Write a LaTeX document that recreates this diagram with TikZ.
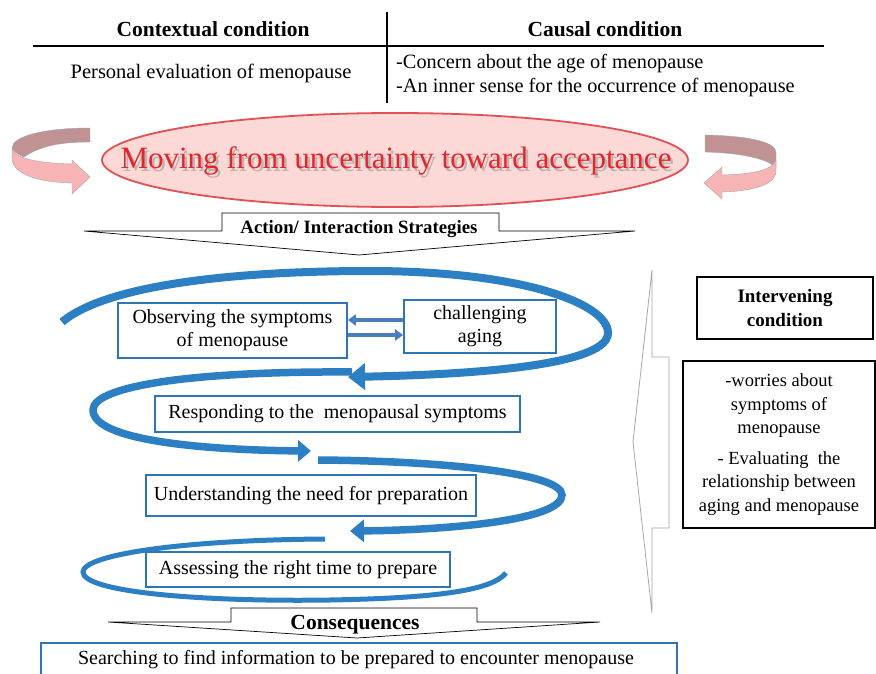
\documentclass[tikz,border=0pt]{standalone}
\usepackage{fontspec}
\setmainfont{Liberation Serif}
\usetikzlibrary{arrows.meta,shapes.geometric}
\definecolor{spblue}{RGB}{43,127,194}
\definecolor{boxblue}{RGB}{46,117,182}
\definecolor{titlered}{RGB}{226,38,44}
\definecolor{ellfill}{RGB}{252,217,215}
\definecolor{ellline}{RGB}{224,80,84}
\definecolor{mauve}{RGB}{192,146,148}
\definecolor{pinkar}{RGB}{247,180,180}
\definecolor{pairblue}{RGB}{74,126,187}
\tikzset{
  bluebox/.style={draw=boxblue, line width=1.8pt, fill=white, inner sep=0pt, align=center, font=\fontsize{20}{23}\selectfont},
  blackbox/.style={draw=black, line width=1.8pt, fill=white, inner sep=0pt, align=center},
  spiral/.style={draw=spblue, line width=8pt, line cap=butt},
  ribbonedge/.style={draw=black!35, line width=0.4pt},
  greyshape/.style={draw=black!35, line width=0.8pt, fill=white},
  pairarrow/.style={draw=pairblue, line width=3.5pt, -{Triangle[length=8pt,width=11pt]}},
}
\begin{document}
\begin{tikzpicture}[x=1pt,y=-1pt]
\useasboundingbox (0,0) rectangle (876,674);
\clip (0,0) rectangle (876,674);

% ---------- top table ----------
\draw[line width=1.2pt] (33,46) -- (824,46);
\draw[line width=1.2pt] (387,12) -- (387,103);
\node[font=\fontsize{21.5}{25}\selectfont\bfseries] (ctx) at (213,29) {Contextual condition};
\node[font=\fontsize{21.5}{25}\selectfont\bfseries] (cau) at (605,29) {Causal condition};
\node[font=\fontsize{20.5}{23}\selectfont] (pe) at (211,73) {Personal evaluation of menopause};
\node[font=\fontsize{20.3}{24}\selectfont, anchor=west, align=left, inner sep=0pt] (cc) at (396,76)
  {-Concern about the age of menopause\\-An inner sense for the occurrence of menopause};

% ---------- curved pink arrows ----------
\path[fill=mauve, ribbonedge] (90,128) .. controls (45,128) and (12,136) .. (12,148)
  .. controls (14,152) and (19,155) .. (24,157) .. controls (40,146) and (60,142) .. (90,142) -- cycle;
\path[fill=pinkar, ribbonedge] (12,148) .. controls (14,158) and (35,163) .. (72,164) -- (72,160)
  -- (90,177) -- (72,194) -- (72,183) .. controls (30,182) and (12,171) .. (12,158) -- cycle;

\path[fill=mauve, ribbonedge] (705,135) .. controls (750,136) and (775,142) .. (776,152)
  -- (776,168) .. controls (770,160) and (745,153) .. (705,152) -- cycle;
\path[fill=pinkar, ribbonedge] (776,160) .. controls (772,170) and (755,174) .. (722,175) -- (722,167)
  -- (704,183) -- (722,199) -- (722,192) .. controls (760,191) and (777,182) .. (776,170) -- cycle;

% ---------- central ellipse ----------
\node[ellipse, draw=ellline, line width=1.8pt, fill=ellfill, minimum width=586pt, minimum height=94pt] (core) at (395,160) {};
\node[font=\fontsize{31}{35}\selectfont, text=black!40, opacity=0.6] at (398.5,163.5) {Moving from uncertainty toward acceptance};
\node[font=\fontsize{31}{35}\selectfont, text=titlered] (title) at (396,161) {Moving from uncertainty toward acceptance};

% ---------- action / interaction shape ----------
\draw[line width=0.7pt, fill=white] (84,231) -- (222,231) -- (222,213) -- (499,213) -- (499,231) -- (635,231) -- (359,255) -- cycle;
\node[font=\fontsize{18.8}{22}\selectfont\bfseries] (act) at (359,229) {Action/ Interaction Strategies};

% ---------- grey side arrow ----------
\draw[greyshape] (652,270) -- (652,357) -- (669,357) -- (669,528) -- (652,528) -- (652,613) -- (633,442) -- cycle;

% ---------- spiral ----------
\coordinate (s1a) at (62,322);
\coordinate (s1b) at (348,377);
\coordinate (s2a) at (352,372);
\coordinate (s2b) at (311,451);
\coordinate (s3a) at (318,460);
\coordinate (s3b) at (350,531);
\coordinate (s4a) at (325,539);
\coordinate (s4b) at (506,573);
\draw[spiral, -{Triangle[length=17pt,width=26pt]}] (s1a) .. controls (110,282) and (250,271) .. (370,271)
  .. controls (520,271) and (608,303) .. (608,333) .. controls (608,362) and (500,374) .. (s1b);
\draw[spiral, line width=7.5pt, -{Triangle[length=13pt,width=21pt]}] (s2a) .. controls (200,371) and (93,385) .. (93,410)
  .. controls (93,440) and (200,450) .. (s2b);
\draw[spiral, line width=7.5pt, -{Triangle[length=14pt,width=22pt]}] (s3a) .. controls (450,461) and (562,474) .. (562,495)
  .. controls (562,520) and (450,530) .. (s3b);
\draw[spiral, line width=5pt] (s4a) .. controls (180,540) and (83,555) .. (83,572)
  .. controls (83,592) and (200,602) .. (330,600) .. controls (440,598) and (492,590) .. (s4b);

% ---------- blue boxes ----------
\node[bluebox, minimum width=229pt, minimum height=55pt] (obs) at (232.5,330.5) {Observing the symptoms\\of menopause};
\node[bluebox, minimum width=152pt, minimum height=53pt] (chal) at (480,326.5) {challenging\\aging};
\draw[pairarrow] ([yshift=6.5pt]chal.west) -- ([yshift=10.5pt]obs.east);
\draw[pairarrow] ([yshift=-4.5pt]obs.east) -- ([yshift=-8.5pt]chal.west);
\node[bluebox, minimum width=365pt, minimum height=36pt] (resp) at (337.5,414) {Responding to the\ \ menopausal symptoms};
\node[bluebox, minimum width=330pt, minimum height=41pt] (und) at (311,495.5) {Understanding the need for preparation};
\node[bluebox, minimum width=304pt, minimum height=35pt] (ass) at (298,569.5) {Assessing the right time to prepare};

% ---------- intervening ----------
\node[blackbox, minimum width=176pt, minimum height=62pt, font=\fontsize{19}{24}\selectfont\bfseries] (interv) at (785,308) {Intervening\\condition};
\node[blackbox, minimum width=192pt, minimum height=167pt, font=\fontsize{18.5}{23.5}\selectfont] (ibody) at (779,444.5)
  {-worries about\\symptoms of\\menopause\\[7pt]- Evaluating\ \ the\\relationship between\\aging and menopause};

% ---------- consequences ----------
\draw[line width=0.7pt, fill=white] (108,622) -- (231,622) -- (231,608) -- (477,608) -- (477,622) -- (600,622) -- (357,638) -- cycle;
\node[font=\fontsize{21.5}{25}\selectfont\bfseries] (cons) at (355,625) {Consequences};
\node[bluebox, minimum width=636pt, minimum height=40pt, anchor=north west] (search) at (40,642) {};
\node[font=\fontsize{20}{23}\selectfont] (searcht) at (356,660) {Searching to find information to be prepared to encounter menopause};
\end{tikzpicture}
\end{document}
